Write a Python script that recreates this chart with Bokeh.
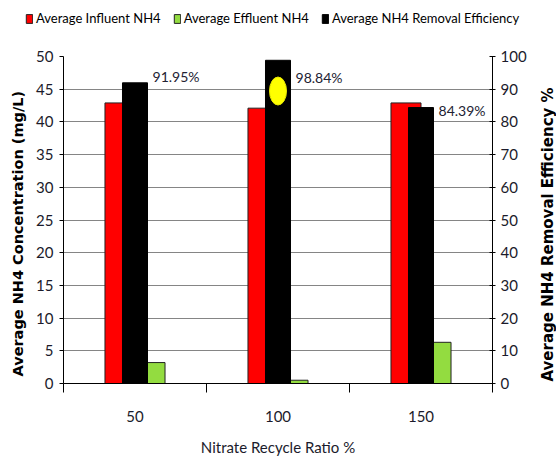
import math
from bokeh.plotting import figure
from bokeh.layouts import row
from bokeh.models import (Range1d, LinearAxis, FixedTicker, Legend, LegendItem,
                          ColumnDataSource, Grid)
from bokeh.core.properties import value
from bokeh.embed import file_html
from bokeh.resources import INLINE

# ---- data ----
categories = ["50", "100", "150"]
influent = [42.9, 42.1, 42.9]        # mg/L
effluent = [3.2, 0.5, 6.3]           # mg/L
efficiency = [91.95, 98.84, 84.39]   # %
eff_labels = ["91.95%", "98.84%", "84.39%"]
label_dy = [-6, 17, 3]               # px nudge of the value labels
left_ticks = list(range(0, 55, 5))
right_ticks = list(range(0, 110, 10))
series_names = ["Average Influent NH4", "Average Effluent NH4",
                "Average NH4 Removal Efficiency"]
series_colors = ["#ff0000", "#93dc40", "#000000"]
series_lines = ["#222222", "#222222", "#000000"]
left_title = "Average NH4 Concentration (mg/L)"
right_title = "Average NH4 Removal Efficiency %"
x_title = "Nitrate Recycle Ratio %"

idx = list(range(len(categories)))
centers = [i + 0.5 for i in idx]

FONT = "Lato"
TITLE_FONT = "DejaVu Sans"
TXT = "#1b1b2b"
LEG_H = 34
TOP = 56 - LEG_H
BOTTOM = 74
FRAME_H = 327
LW, RW = 30, 22          # side strips holding the rotated axis titles

p = figure(frame_width=429, frame_height=FRAME_H, output_backend="svg", toolbar_location=None,
           x_range=Range1d(0, 3), y_range=Range1d(0, 50),
           min_border_left=63 - LW, min_border_right=42, min_border_top=TOP,
           min_border_bottom=BOTTOM, x_axis_type=None, y_axis_type=None)
p.outline_line_color = None
p.extra_y_ranges = {"right": Range1d(0, 100)}

bw = 0.21   # primary bar width
kw = 0.175  # secondary bar width

r_in = p.vbar(x=[c - bw / 2 for c in centers], top=influent, width=bw, bottom=0,
              fill_color=series_colors[0], line_color=series_lines[0], line_width=1)
r_out = p.vbar(x=[c + bw / 2 for c in centers], top=effluent, width=bw, bottom=0,
               fill_color=series_colors[1], line_color=series_lines[1], line_width=1)
r_eff = p.vbar(x=centers, top=efficiency, width=kw, bottom=0, y_range_name="right",
               fill_color=series_colors[2], line_color=series_lines[2], line_width=1)

# highlight marker on the highest efficiency bar
imax = efficiency.index(max(efficiency))
p.ellipse(x=[centers[imax]], y=[efficiency[imax] - 9.4], width=17, height=28,
          width_units="screen", height_units="screen", y_range_name="right",
          fill_color="#ffff00", line_color="#e8e800", line_width=1)

# value labels
src = ColumnDataSource(dict(x=[c + kw / 2 for c in centers], y=efficiency,
                            t=eff_labels, dy=label_dy))
p.text(x="x", y="y", text="t", y_offset="dy", x_offset=5, source=src,
       y_range_name="right", text_font=value(FONT), text_font_size="14px",
       text_color="#222233", text_baseline="middle", text_align="left")

# grid (left axis)
p.ygrid.visible = False
grid = Grid(dimension=1, ticker=FixedTicker(ticks=left_ticks),
            grid_line_color="#858585", grid_line_width=1)
p.add_layout(grid, "center")

# x axis
xax = LinearAxis(ticker=FixedTicker(ticks=centers, minor_ticks=[0, 1, 2, 3]),
                 major_label_overrides={c: s for c, s in zip(centers, categories)},
                 axis_label=x_title)
xax.major_tick_out = 0
xax.major_tick_in = 0
xax.minor_tick_out = 9
xax.minor_tick_in = 0
xax.minor_tick_line_color = "black"
xax.axis_line_color = "black"
xax.major_label_standoff = 18
xax.major_label_text_font = FONT
xax.major_label_text_font_size = "15px"
xax.major_label_text_color = TXT
xax.axis_label_text_font = FONT
xax.axis_label_text_font_size = "15px"
xax.axis_label_text_font_style = "normal"
xax.axis_label_text_color = TXT
xax.axis_label_standoff = 13
p.add_layout(xax, "below")

# left axis
lax = LinearAxis(ticker=FixedTicker(ticks=left_ticks))
lax.major_tick_out = 4
lax.major_tick_in = 0
lax.minor_tick_out = 0
lax.minor_tick_in = 0
lax.axis_line_color = "black"
lax.major_tick_line_color = "black"
lax.major_label_standoff = 6
lax.major_label_text_font = FONT
lax.major_label_text_font_size = "15px"
lax.major_label_text_color = TXT
p.add_layout(lax, "left")

# right axis
rax = LinearAxis(y_range_name="right", ticker=FixedTicker(ticks=right_ticks))
rax.major_tick_out = 3
rax.major_tick_in = 3
rax.minor_tick_out = 0
rax.minor_tick_in = 0
rax.axis_line_color = "black"
rax.major_tick_line_color = "black"
rax.major_label_standoff = 5
rax.major_label_text_font = FONT
rax.major_label_text_font_size = "15px"
rax.major_label_text_color = TXT
p.add_layout(rax, "right")


def title_strip(width, text, x, y_start, size):
    # narrow strip whose frame lines up with the chart frame; y is in page pixels
    f = figure(width=width, height=TOP + FRAME_H + BOTTOM, output_backend="svg",
               toolbar_location=None, x_axis_type=None, y_axis_type=None,
               min_border_left=0, min_border_right=0, min_border_top=TOP,
               min_border_bottom=BOTTOM, x_range=Range1d(0, width),
               y_range=Range1d(LEG_H + TOP + FRAME_H, LEG_H + TOP))
    f.outline_line_color = None
    f.xgrid.visible = False
    f.ygrid.visible = False
    f.text(x=[x], y=[y_start], text=[text], angle=math.pi / 2,
           text_align="left", text_baseline="middle",
           text_font=value(TITLE_FONT), text_font_style="bold",
           text_font_size=size, text_color="black")
    return f


lfig = title_strip(LW, left_title, 17.5, 377, "14.5px")
rfig = title_strip(RW, right_title, 13, 382, "15px")

# legend strip above the chart (separate root, so no frame alignment)
leg = figure(width=556, height=LEG_H, output_backend="svg", toolbar_location=None,
             x_axis_type=None, y_axis_type=None, min_border=0,
             x_range=Range1d(0, 1), y_range=Range1d(0, 1))
leg.outline_line_color = None
leg.xgrid.visible = False
leg.ygrid.visible = False
items = []
for name, fc, lc in zip(series_names, series_colors, series_lines):
    rr = leg.vbar(x=[-10], top=[0.5], width=0.1, fill_color=fc, line_color=lc,
                  line_width=1, visible=False)
    items.append(LegendItem(label=name, renderers=[rr]))
legend = Legend(items=items, orientation="horizontal", location=(25, 8),
                glyph_width=8, glyph_height=11, label_standoff=3, spacing=12,
                padding=0, margin=0, border_line_color=None,
                background_fill_alpha=0, label_text_font=FONT,
                label_text_font_size="13px", label_text_color="black",
                label_height=14)
leg.add_layout(legend, "center")

chart = row(lfig, p, rfig, spacing=0)
open("out.html", "w").write(file_html([leg, chart], INLINE))
